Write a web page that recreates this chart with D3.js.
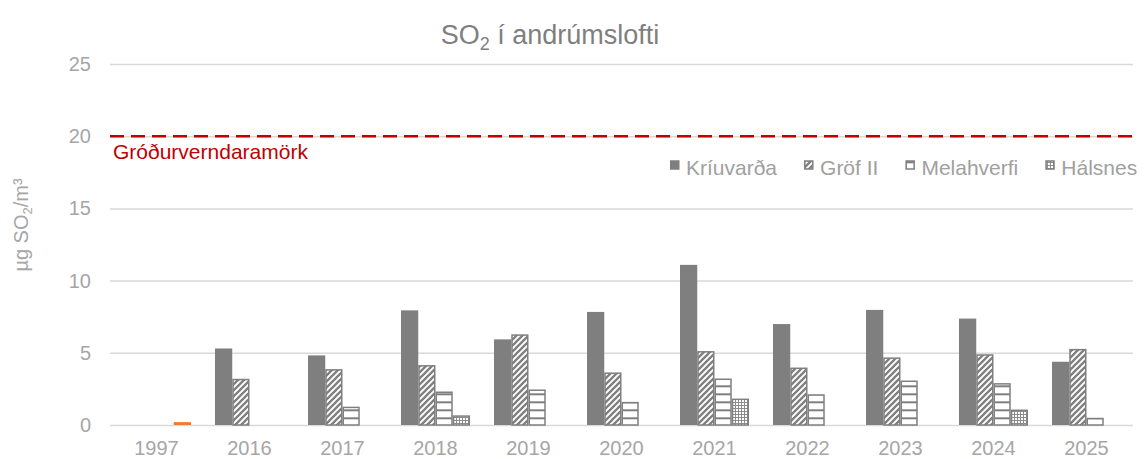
<!DOCTYPE html>
<html>
<head>
<meta charset="utf-8">
<script src="https://cdn.jsdelivr.net/npm/d3@7/dist/d3.min.js"></script>
<style>
  html, body { margin: 0; padding: 0; background: #fff; }
  svg { display: block; font-family: "Liberation Sans", Arial, sans-serif; }
</style>
</head>
<body>
<svg id="chart" width="1148" height="459"></svg>
<script>
// ---- data ----
const years = ["1997", "2016", "2017", "2018", "2019", "2020", "2021", "2022", "2023", "2024", "2025"];
const seriesNames = ["Kríuvarða", "Gröf II", "Melahverfi", "Hálsnes"];
const kriuvarda  = [null, 5.3, 4.82, 7.94, 5.93, 7.83, 11.09, 6.99, 7.97, 7.37, 4.38];
const grofII     = [null, 3.2, 3.87, 4.15, 6.28, 3.64, 5.12, 3.98, 4.68, 4.9, 5.27];
const melahverfi = [null, null, 1.27, 2.32, 2.46, 1.6, 3.22, 2.13, 3.08, 2.9, 0.5];
const halsnes    = [0.2, null, null, 0.67, null, null, 1.83, null, null, 1.07, null];
const yTicks = [0, 5, 10, 15, 20, 25];
const limitValue = 20;
const limitLabel = "Gróðurverndaramörk";
const highlightYear = "1997";

const seriesValues = [kriuvarda, grofII, melahverfi, halsnes];
const fills = ["#7f7f7f", "url(#pDiag)", "url(#pHoriz)", "url(#pGrid)"];

const svg = d3.select("#chart");
const mLeft = 110, mRight = 1133, mTop = 64, mBottom = 425;

// patterns
const defs = svg.append("defs");
const pd = defs.append("pattern").attr("id", "pDiag").attr("patternUnits", "userSpaceOnUse")
  .attr("width", 6).attr("height", 6);
pd.append("rect").attr("width", 6).attr("height", 6).attr("fill", "#fff");
pd.append("path").attr("d", "M-1.5,1.5 L1.5,-1.5 M0,6 L6,0 M4.5,7.5 L7.5,4.5")
  .attr("stroke", "#7f7f7f").attr("stroke-width", 2.3);
const ph = defs.append("pattern").attr("id", "pHoriz").attr("patternUnits", "userSpaceOnUse")
  .attr("width", 8).attr("height", 8);
ph.append("rect").attr("width", 8).attr("height", 8).attr("fill", "#fff");
ph.append("rect").attr("y", 1.3).attr("width", 8).attr("height", 2).attr("fill", "#7f7f7f");
const pg = defs.append("pattern").attr("id", "pGrid").attr("patternUnits", "userSpaceOnUse")
  .attr("width", 3).attr("height", 3);
pg.append("rect").attr("width", 3).attr("height", 3).attr("fill", "#fff");
pg.append("rect").attr("width", 3).attr("height", 1).attr("fill", "#8c8c8c");
pg.append("rect").attr("width", 1).attr("height", 3).attr("fill", "#8c8c8c");

// scales
const x = d3.scaleBand().domain(years).range([mLeft, mRight]).paddingInner(0.258).paddingOuter(0.129);
const x1 = d3.scaleBand().domain(d3.range(seriesNames.length)).range([0, x.bandwidth()]);
const y = d3.scaleLinear().domain([0, 25]).range([mBottom, mTop]);

// grid + y axis
const yAxis = svg.append("g").attr("transform", `translate(${mLeft},0)`)
  .call(d3.axisLeft(y).tickValues(yTicks).tickSize(-(mRight - mLeft)).tickPadding(19));
yAxis.select(".domain").remove();
yAxis.selectAll(".tick line").attr("stroke", "#d9d9d9").attr("stroke-width", 1.5);
yAxis.selectAll(".tick text").attr("fill", "#a6a6a6").style("font-size", "20px")
  .style("font-family", "'Liberation Sans', Arial, sans-serif");

// x axis
const xAxis = svg.append("g").attr("transform", `translate(0,${mBottom})`)
  .call(d3.axisBottom(x).tickSize(0).tickPadding(16));
xAxis.select(".domain").remove();
xAxis.selectAll(".tick text").attr("fill", "#a6a6a6").style("font-size", "20px")
  .style("font-family", "'Liberation Sans', Arial, sans-serif");

// bars
const barData = [];
years.forEach((yr, i) => {
  seriesValues.forEach((vals, s) => {
    if (vals[i] != null) barData.push({ yr, s, v: vals[i] });
  });
});
const plain = d => d.s === 0 || d.yr === highlightYear;
const bars = svg.append("g");
bars.selectAll("rect").data(barData).join("rect")
  .attr("x", d => x(d.yr) + x1(d.s) + (plain(d) ? 0 : 0.75))
  .attr("width", d => x1.bandwidth() - (plain(d) ? 0 : 1.5))
  .attr("y", d => y(d.v) + (plain(d) ? 0 : 0.75))
  .attr("height", d => Math.max(0, y(0) - y(d.v) - (plain(d) ? 0 : 0.75)))
  .attr("fill", d => d.yr === highlightYear ? "#ed7d31" : fills[d.s])
  .attr("stroke", d => plain(d) ? "none" : "#7f7f7f")
  .attr("stroke-width", 1.5);

// threshold line
svg.append("line")
  .attr("x1", mLeft).attr("x2", mRight).attr("y1", y(limitValue)).attr("y2", y(limitValue))
  .attr("stroke", "#c00000").attr("stroke-width", 2.5).attr("stroke-dasharray", "14,7");
svg.append("text").attr("x", mLeft + 3).attr("y", y(limitValue) + 23)
  .attr("fill", "#c00000").style("font-size", "21px").text(limitLabel);

// title
const title = svg.append("text").attr("x", 550).attr("y", 44).attr("text-anchor", "middle")
  .attr("fill", "#7f7f7f").style("font-size", "27px");
title.append("tspan").text("SO");
title.append("tspan").attr("dy", 6).style("font-size", "18px").text("2");
title.append("tspan").attr("dy", -6).text(" í andrúmslofti");

// y axis title
const yt = svg.append("text").attr("transform", "translate(28,225) rotate(-90)")
  .attr("text-anchor", "middle").attr("fill", "#a6a6a6").style("font-size", "20px");
yt.append("tspan").text("µg SO");
yt.append("tspan").attr("dy", 4).style("font-size", "13px").text("2");
yt.append("tspan").attr("dy", -4).text("/m³");

// legend
const legend = svg.append("g");
let lx = 670;
seriesNames.forEach((name, s) => {
  legend.append("rect").attr("x", lx + 0.75).attr("y", 161).attr("width", 8).attr("height", 8)
    .attr("fill", fills[s]).attr("stroke", "#7f7f7f").attr("stroke-width", 1.5);
  const t = legend.append("text").attr("x", lx + 16).attr("y", 175)
    .attr("fill", "#a0a0a0").style("font-size", "21px").text(name);
  lx = lx + 16 + t.node().getComputedTextLength() + 27;
});
</script>
</body>
</html>
